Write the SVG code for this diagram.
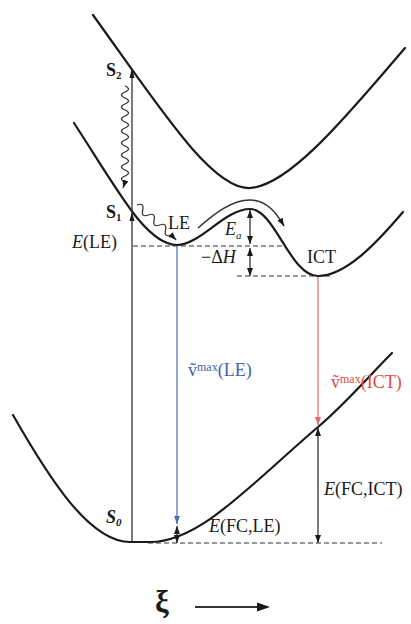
<svg xmlns="http://www.w3.org/2000/svg" width="411" height="624" viewBox="0 0 411 624">
<style>
.curve{fill:none;stroke:#1a1a1a;stroke-width:2.2;stroke-linecap:round}
.line{fill:none;stroke:#333;stroke-width:1.3}
.dash{fill:none;stroke:#333;stroke-width:1.2;stroke-dasharray:5 3}
.wave{fill:none;stroke:#333;stroke-width:1.2}
.ah{fill:#1a1a1a}
text{font-family:"Liberation Serif","Times New Roman",serif;font-size:18px;fill:#1a1a1a}
.it{font-style:italic}
.b{font-weight:bold}
.sub{font-size:11px}
.sup{font-size:12px}
</style>
<defs>
<marker id="ab" viewBox="0 0 8 6" refX="8" refY="3" markerWidth="8" markerHeight="6" markerUnits="userSpaceOnUse" orient="auto-start-reverse"><path d="M0,0 L8,3 L0,6 z" fill="#1a1a1a"/></marker>
<marker id="abl" viewBox="0 0 8 6" refX="8" refY="3" markerWidth="8" markerHeight="6" markerUnits="userSpaceOnUse" orient="auto"><path d="M0,0 L8,3 L0,6 z" fill="#4a6cb3"/></marker>
<marker id="ard" viewBox="0 0 8 6" refX="8" refY="3" markerWidth="8" markerHeight="6" markerUnits="userSpaceOnUse" orient="auto"><path d="M0,0 L8,3 L0,6 z" fill="#e06a66"/></marker>
</defs>

<g id="S2-curve"><path class="curve" d="M93,15 C160,108 212,190 250,188 C290,186 350,112 405,48"/></g>
<g id="S1-curve"><path class="curve" d="M74,123 C100,163 122,200 138,219 C153,237 165,245 177,245 C200,245 225,209 250,209 C275,209 290,276 318,276 C345,276 375,245 403,212"/></g>
<g id="S0-curve"><path class="curve" d="M13,415 C50,480 90,542 130,542 L150,542 C200,542 250,485 318,427 C345,404 370,375 392,353"/></g>

<g id="connectors">
  <path class="dash" d="M133,246 H282"/>
  <path class="dash" d="M237,276 H330"/>
  <path class="dash" d="M148,543 H382"/>
  <path class="line" d="M132,542 V72"/>
  <polygon class="ah" points="132,68 129.5,78 134.5,78"/>
  <polygon class="ah" points="132,212 129.5,221 134.5,221"/>
  <path class="wave" marker-end="url(#ab)" d="M125,86 q7,3 0,6 q-7,3 0,6 q7,3 0,6 q-7,3 0,6 q7,3 0,6 q-7,3 0,6 q7,3 0,6 q-7,3 0,6 q7,3 0,6 q-7,3 0,6 q7,3 0,6 q-7,3 0,6 q7,3 0,6 q-7,3 0,6 q7,3 0,6 q-7,3 0,6 l-2,6"/>
  <path class="wave" marker-end="url(#ab)" d="M137,205 q7.4,-2.8 5.7,5 q-1.8,7.8 5.7,5 q7.4,-2.8 5.7,5 q-1.8,7.8 5.7,5 q7.4,-2.8 5.7,5 q-1.8,7.8 5.7,5 l5,5"/>
  <path class="wave" style="stroke-width:1.6" marker-end="url(#ab)" d="M198,228 C215,213 232,200 250,200 C266,200 276,212 284,226"/>
  <path class="line" marker-start="url(#ab)" marker-end="url(#ab)" d="M250,210 V244"/>
  <path class="line" marker-start="url(#ab)" marker-end="url(#ab)" d="M250,248 V276"/>
  <path fill="none" stroke="#4a6cb3" stroke-width="1.2" marker-end="url(#abl)" d="M177,246 V524"/>
  <path class="line" marker-start="url(#ab)" marker-end="url(#ab)" d="M177,526 V543"/>
  <path fill="none" stroke="#e06a66" stroke-width="1.2" marker-end="url(#ard)" d="M318,277 V425"/>
  <path class="line" marker-start="url(#ab)" marker-end="url(#ab)" d="M318,428 V543"/>
  <path fill="none" stroke="#333" stroke-width="2" d="M195,607 H258"/>
  <polygon class="ah" points="270,607 257,602.5 257,611.5"/>
</g>

<g id="labels">
  <text x="106" y="76" class="b">S<tspan class="sub" dy="3">2</tspan></text>
  <text x="106" y="218" class="b">S<tspan class="sub" dy="3">1</tspan></text>
  <text x="106" y="523" class="b it">S<tspan class="sub" dy="3">0</tspan></text>
  <text x="72" y="248"><tspan class="it">E</tspan>(LE)</text>
  <text x="168" y="229">LE</text>
  <text x="225" y="235" class="it">E<tspan class="sub" dy="4">a</tspan></text>
  <text x="201" y="263">−Δ<tspan class="it">H</tspan></text>
  <text x="307" y="263">ICT</text>
  <text x="188" y="376" style="fill:#3f62b0">ṽ<tspan class="sup" dy="-5" style="fill:#3f62b0">max</tspan><tspan dy="5" style="fill:#3f62b0">(LE)</tspan></text>
  <text x="331" y="388" style="fill:#e04a44">ṽ<tspan class="sup" dy="-5" style="fill:#e04a44">max</tspan><tspan dy="5" style="fill:#e04a44">(ICT)</tspan></text>
  <text x="324" y="495"><tspan class="it">E</tspan>(FC,ICT)</text>
  <text x="209" y="532"><tspan class="it">E</tspan>(FC,LE)</text>
  <text x="155" y="612" class="b" style="font-size:31px">ξ</text>
</g>
</svg>
